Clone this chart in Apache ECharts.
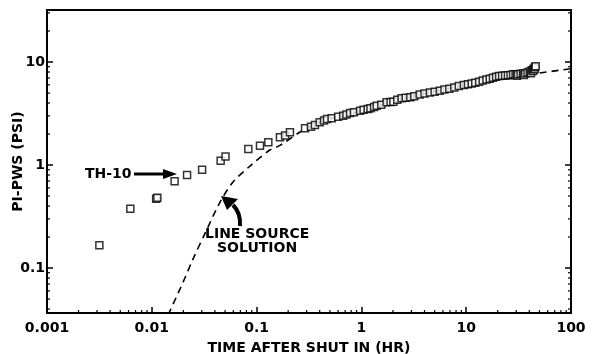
<!DOCTYPE html>
<html>
<head>
<meta charset="utf-8">
<script src="https://cdn.jsdelivr.net/npm/echarts@6/dist/echarts.min.js"></script>
<style>
  html, body { margin: 0; padding: 0; background: #fff; }
  #main { width: 599px; height: 354px; }
</style>
</head>
<body>
<div id="main"></div>
<script>
var myChart = echarts.init(document.getElementById('main'));

// measured points, TH-10 (time hr, pi-pws psi)
var obsTime = [
    0.00316, 0.00624, 0.0110, 0.0113, 0.0165, 0.0217, 0.0302, 0.0454, 0.0505,
    0.0834, 0.1077, 0.1294, 0.167, 0.187, 0.208, 0.29, 0.33, 0.36, 0.40, 0.44,
    0.47, 0.52, 0.60, 0.67, 0.72, 0.78, 0.85, 0.97, 1.05, 1.15, 1.22, 1.32,
    1.40, 1.55, 1.74, 1.90, 2.02, 2.20, 2.42, 2.65, 2.93, 3.2, 3.6, 4.0, 4.5,
    5.0, 5.6, 6.2, 6.9, 7.7, 8.5, 9.5, 10.4, 11.3, 12.2, 13.3, 14.4, 15.6,
    16.8, 18.0, 19.3, 20.6, 22.0, 23.5, 25.0, 26.5, 28.0, 29.6, 30.5, 31.2,
    33.0, 34.8, 35.5, 36.6, 38.5, 40.4, 41.5, 42.3, 43.5, 44.0, 45.0, 45.3, 46.0
];
var obsDp = [
    0.166, 0.377, 0.47, 0.48, 0.695, 0.80, 0.90, 1.10, 1.21,
    1.43, 1.54, 1.66, 1.86, 1.93, 2.08, 2.27, 2.35, 2.45, 2.60, 2.70,
    2.80, 2.85, 2.95, 3.01, 3.10, 3.20, 3.25, 3.36, 3.45, 3.50, 3.55, 3.65,
    3.76, 3.85, 4.06, 4.10, 4.12, 4.30, 4.44, 4.50, 4.54, 4.65, 4.85, 4.95, 5.05,
    5.15, 5.26, 5.40, 5.50, 5.65, 5.85, 6.0, 6.1, 6.2, 6.3, 6.45, 6.6, 6.75,
    6.9, 7.05, 7.2, 7.3, 7.35, 7.4, 7.45, 7.5, 7.6, 7.55, 7.35, 7.6,
    7.7, 7.75, 7.5, 7.8, 7.9, 8.1, 7.8, 8.3, 8.2, 8.6, 8.5, 8.9, 9.1
];

// line source solution (dashed curve)
var lsTime = [0.0143, 0.0199, 0.0247, 0.0327, 0.0448, 0.0596, 0.0865, 0.134,
    0.167, 0.26, 0.40, 0.60, 1.0, 2.0, 3.0, 5.0, 10, 20, 50, 100];
var lsDp = [0.035, 0.073, 0.122, 0.224, 0.437, 0.684, 0.978, 1.40,
    1.55, 2.09, 2.60, 2.95, 3.35, 4.14, 4.60, 5.19, 5.98, 6.77, 7.82, 8.61];

// minor tick positions
var minorX = [0.002, 0.003, 0.004, 0.005, 0.006, 0.007, 0.008, 0.009,
    0.02, 0.03, 0.04, 0.05, 0.06, 0.07, 0.08, 0.09,
    0.2, 0.3, 0.4, 0.5, 0.6, 0.7, 0.8, 0.9,
    2, 3, 4, 5, 6, 7, 8, 9, 20, 30, 40, 50, 60, 70, 80, 90];
var minorY = [0.04, 0.05, 0.06, 0.07, 0.08, 0.09,
    0.2, 0.3, 0.4, 0.5, 0.6, 0.7, 0.8, 0.9,
    2, 3, 4, 5, 6, 7, 8, 9, 20, 30];

var font = 'DejaVu Sans';

var pairs = function(xs, ys) {
    var res = [];
    for (var i = 0; i < xs.length; i++) res.push([xs[i], ys[i]]);
    return res;
};

var powLabel = function(v) {
    var l = Math.log10(v);
    var e = Math.round(l);
    if (Math.abs(l - e) > 1e-6) return '';
    return e < 0 ? Math.pow(10, e).toFixed(-e) : String(Math.pow(10, e));
};

var axisBase = {
    axisLine: { show: true, lineStyle: { color: '#000', width: 2 } },
    axisTick: { show: true, inside: true, length: 6, lineStyle: { color: '#000', width: 1.5 } },
    splitLine: { show: false },
    minorTick: { show: false },
    nameMoveOverlap: false
};

option = {
    animation: false,
    backgroundColor: '#fff',
    grid: { left: 47, right: 28, top: 10, bottom: 41, containLabel: false, outerBoundsMode: 'none' },
    xAxis: [
        Object.assign({}, axisBase, {
            type: 'log', logBase: 10, min: 0.001, max: 100,
            name: 'TIME AFTER SHUT IN (HR)',
            nameLocation: 'middle', nameGap: 28,
            nameTextStyle: { fontFamily: font, fontWeight: 'bold', fontSize: 14, color: '#000' },
            axisLabel: { formatter: powLabel, margin: 8, fontFamily: font, fontWeight: 'bold', fontSize: 14, color: '#000' }
        }),
        Object.assign({}, axisBase, {
            type: 'log', logBase: 10, min: 0.001, max: 100, position: 'top',
            axisTick: { show: false }, axisLabel: { show: false }
        })
    ],
    yAxis: [
        Object.assign({}, axisBase, {
            type: 'log', logBase: 10, min: 0.0366, max: 32,
            name: 'PI-PWS (PSI)',
            nameLocation: 'middle', nameGap: 22,
            nameTextStyle: { fontFamily: font, fontWeight: 'bold', fontSize: 14, color: '#000' },
            axisLabel: { formatter: powLabel, margin: 2, fontFamily: font, fontWeight: 'bold', fontSize: 14, color: '#000' }
        }),
        Object.assign({}, axisBase, {
            type: 'log', logBase: 10, min: 0.0366, max: 32, position: 'right',
            axisLabel: { show: false }
        })
    ],
    series: [
        {
            name: 'Line source solution',
            type: 'line',
            data: pairs(lsTime, lsDp),
            smooth: 0.3,
            symbol: 'none',
            clip: true,
            lineStyle: { color: '#000', width: 1.6, type: [7, 5] },
            z: 2
        },
        {
            name: 'TH-10',
            type: 'scatter',
            data: pairs(obsTime, obsDp),
            symbol: 'rect',
            symbolSize: 7,
            itemStyle: { color: '#fff', borderColor: '#000', borderWidth: 1.5 },
            z: 3
        },
        {
            type: 'custom',
            data: minorX.map(function(v) { return [v, 1]; }),
            clip: false,
            silent: true,
            renderItem: function(params, api) {
                var cs = params.coordSys;
                var x = api.coord([api.value(0), 1])[0];
                var yb = cs.y + cs.height;
                return { type: 'line', shape: { x1: x, y1: yb, x2: x, y2: yb - 3 }, style: { stroke: '#000', lineWidth: 1.2 } };
            },
            z: 4
        },
        {
            type: 'custom',
            data: minorY.map(function(v) { return [1, v]; }),
            clip: false,
            silent: true,
            renderItem: function(params, api) {
                var cs = params.coordSys;
                var y = api.coord([1, api.value(1)])[1];
                return {
                    type: 'group',
                    children: [
                        { type: 'line', shape: { x1: cs.x, y1: y, x2: cs.x + 3, y2: y }, style: { stroke: '#000', lineWidth: 1.2 } },
                        { type: 'line', shape: { x1: cs.x + cs.width, y1: y, x2: cs.x + cs.width - 3, y2: y }, style: { stroke: '#000', lineWidth: 1.2 } }
                    ]
                };
            },
            z: 4
        }
    ],
    graphic: [
        { type: 'text', left: 85, top: 167, style: { text: 'TH-10', fontFamily: font, fontWeight: 'bold', fontSize: 14, fill: '#000' } },
        { type: 'line', shape: { x1: 134, y1: 174, x2: 166, y2: 174 }, style: { stroke: '#000', lineWidth: 3 } },
        { type: 'polygon', shape: { points: [[177, 174], [163, 169], [163, 179]] }, style: { fill: '#000' } },
        { type: 'text', left: 205, top: 227, style: { text: 'LINE SOURCE', fontFamily: font, fontWeight: 'bold', fontSize: 14, fill: '#000' } },
        { type: 'text', left: 217, top: 241, style: { text: 'SOLUTION', fontFamily: font, fontWeight: 'bold', fontSize: 14, fill: '#000' } },
        { type: 'bezierCurve', shape: { x1: 240, y1: 226, cpx1: 241, cpy1: 213, x2: 233, y2: 205 }, style: { stroke: '#000', lineWidth: 4, fill: null } },
        { type: 'polygon', shape: { points: [[221, 196], [238, 199], [227, 210]] }, style: { fill: '#000' } }
    ]
};

myChart.setOption(option);
</script>
</body>
</html>
